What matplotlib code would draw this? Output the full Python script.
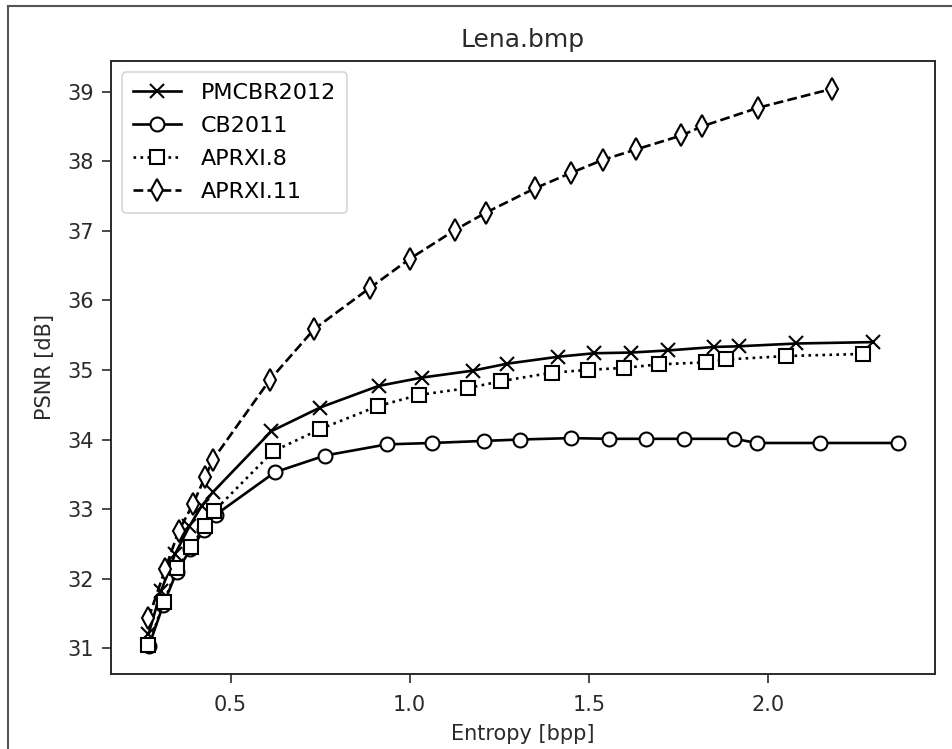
import matplotlib
matplotlib.use("Agg")
import matplotlib.pyplot as plt
from matplotlib.lines import Line2D

# ---- data ----
pmcbr_x = [0.271, 0.306, 0.345, 0.385, 0.420, 0.452, 0.614, 0.750, 0.913, 1.034,
           1.176, 1.272, 1.415, 1.515, 1.618, 1.720, 1.850, 1.918, 2.079, 2.293]
pmcbr_y = [31.20, 31.82, 32.35, 32.75, 33.05, 33.25, 34.12, 34.46, 34.77, 34.89,
           34.99, 35.09, 35.19, 35.24, 35.25, 35.28, 35.33, 35.34, 35.38, 35.40]

cb_x = [0.272, 0.312, 0.350, 0.388, 0.427, 0.459, 0.624, 0.764, 0.936, 1.062,
        1.207, 1.309, 1.449, 1.557, 1.659, 1.764, 1.904, 1.970, 2.146, 2.361]
cb_y = [31.03, 31.62, 32.10, 32.42, 32.70, 32.92, 33.53, 33.77, 33.93, 33.95,
        33.98, 34.00, 34.02, 34.01, 34.01, 34.01, 34.01, 33.95, 33.95, 33.95]

a8_x = [0.271, 0.314, 0.351, 0.390, 0.428, 0.454, 0.619, 0.750, 0.911, 1.025,
        1.163, 1.256, 1.396, 1.496, 1.599, 1.695, 1.827, 1.883, 2.051, 2.265]
a8_y = [31.04, 31.66, 32.15, 32.45, 32.76, 32.97, 33.83, 34.15, 34.48, 34.64,
        34.74, 34.84, 34.96, 35.00, 35.03, 35.08, 35.11, 35.15, 35.20, 35.23]

a11_x = [0.271, 0.318, 0.355, 0.395, 0.429, 0.451, 0.610, 0.734, 0.889, 1.001,
         1.126, 1.212, 1.349, 1.449, 1.539, 1.632, 1.758, 1.815, 1.973, 2.178]
a11_y = [31.43, 32.14, 32.68, 33.07, 33.46, 33.71, 34.86, 35.59, 36.18, 36.60,
         37.01, 37.26, 37.61, 37.83, 38.02, 38.17, 38.37, 38.50, 38.77, 39.04]

labels = ["PMCBR2012", "CB2011", "APRXI.8", "APRXI.11"]
title = "Lena.bmp"
xlabel = "Entropy [bpp]"
ylabel = "PSNR [dB]"

plt.rcParams['font.family'] = ['DejaVu Sans']
fig = plt.figure(figsize=(9.53, 7.49), dpi=100)
ax = fig.add_axes([111/953, 1-674/749, (935-111)/953, (674-61)/749])

lw = 1.9
ms = 10
mew = 1.5
txt = '#2a2a2a'
ax.plot(pmcbr_x, pmcbr_y, color='black', linestyle='-', marker='x', lw=lw,
        ms=ms, mew=mew, label=labels[0])
ax.plot(cb_x, cb_y, color='black', linestyle='-', marker='o', lw=lw,
        ms=ms, mew=mew, mfc='white', label=labels[1])
ax.plot(a8_x, a8_y, color='black', linestyle=':', marker='s', lw=lw,
        ms=ms, mew=mew, mfc='white', label=labels[2])
ax.plot(a11_x, a11_y, color='black', linestyle='--', marker='d', lw=lw,
        ms=ms + 1, mew=mew, mfc='white', label=labels[3])

ax.set_title(title, fontsize=18, pad=10, color=txt)
ax.set_xlabel(xlabel, fontsize=15, color=txt, labelpad=7)
ax.set_ylabel(ylabel, fontsize=15, color=txt, labelpad=9)
ax.set_xticks([0.5, 1.0, 1.5, 2.0])
ax.set_yticks([31, 32, 33, 34, 35, 36, 37, 38, 39])
ax.tick_params(labelsize=15, width=1.2, length=6.5, colors=txt)
ax.tick_params(axis='x', pad=8.3)
ax.tick_params(axis='y', pad=6)
for s in ax.spines.values():
    s.set_linewidth(1.4)
    s.set_color(txt)

leg = ax.legend(loc='upper left', fontsize=16, handlelength=2.15,
                handletextpad=0.9, borderpad=0.5, labelspacing=0.58)
leg.get_frame().set_linewidth(1.2)

# figure border lines (top and left)
fig.add_artist(Line2D([8/953, 1.0], [1-6/749, 1-6/749], color='#555555', lw=1.5,
                      transform=fig.transFigure))
fig.add_artist(Line2D([8/953, 8/953], [0.0, 1-6/749], color='#555555', lw=1.5,
                      transform=fig.transFigure))

fig.savefig("out.png", dpi=100)
